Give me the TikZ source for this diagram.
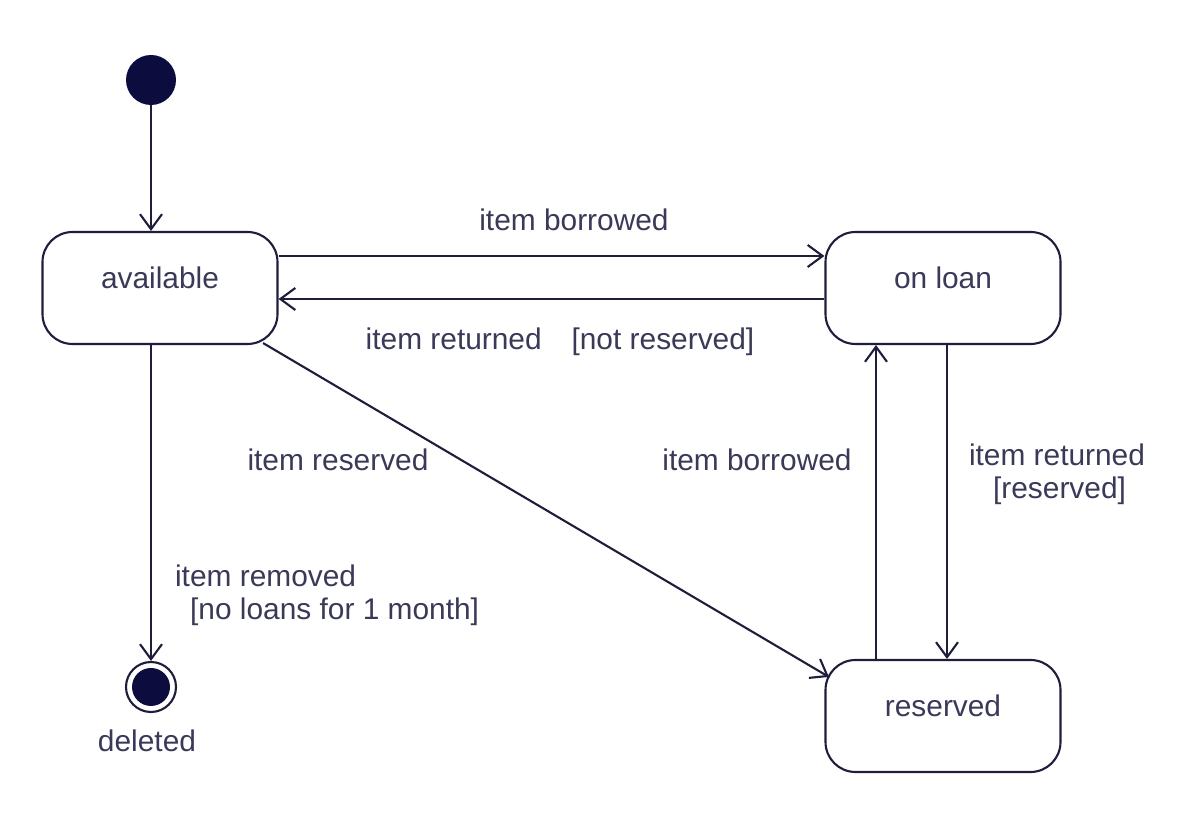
\documentclass[tikz,border=0pt]{standalone}
\usepackage{fontspec}
\setmainfont{Liberation Sans}
\usepackage{tikz}
\usetikzlibrary{arrows.meta,calc,positioning}
\definecolor{umlline}{RGB}{30,30,60}
\definecolor{umldot}{RGB}{12,12,62}
\definecolor{umltext}{RGB}{58,58,88}
\tikzset{state/.style={draw=umlline,line width=1.2pt,rounded corners=0.6cm,minimum width=4.7cm,minimum height=2.24cm,
    text height=0.45cm,text depth=0.42cm,text=umltext,font=\fontsize{17}{19}\selectfont},
  lbl/.style={text=umltext,font=\fontsize{17}{19}\selectfont,inner sep=1pt},
  arr/.style={-{Straight Barb[length=3mm,width=4.4mm]},line width=1.2pt,draw=umlline}}

\begin{document}
\begin{tikzpicture}
\useasboundingbox (0,0) rectangle (23.84,16.74);
\node[circle,fill=umldot,minimum size=1cm,inner sep=0pt] (init) at (3.02,15.14){};
\node[state] (avail) at (3.2,10.98){available};
\node[state] (loan) at (18.86,10.98){on loan};
\node[state] (res) at (18.86,2.42){reserved};
\node[circle,draw=umlline,line width=1.2pt,minimum size=1cm,inner sep=0pt] (fin) at (3.02,3.0){};
\fill[umldot] (fin) circle (0.38cm);
\node[lbl] (del) at (2.94,1.92){deleted};
\draw[arr] (init) -- (init |- avail.north);
\draw[arr] ([yshift=0.64cm]avail.east) -- ([yshift=0.64cm]loan.west);
\draw[arr] ([yshift=-0.22cm]loan.west) -- ([yshift=-0.22cm]avail.east);
\draw[arr] ([xshift=-0.31cm,yshift=0.04cm]avail.south east) -- ([xshift=0.09cm,yshift=-0.36cm]res.north west);
\draw[arr] (avail.south -| fin) -- (fin.north);
\draw[arr] ([xshift=-1.34cm]res.north) -- ([xshift=-1.34cm]loan.south);
\draw[arr] ([xshift=0.08cm]loan.south) -- ([xshift=0.08cm]res.north);
% transition labels
\node[lbl] (t1) at (11.48,12.34){item borrowed};
\node[lbl] (t2) at (11.2,9.9){item returned\quad[not reserved]};
\node[lbl] (t3) at (6.76,7.54){item reserved};
\node[lbl] (t4) at (15.14,7.54){item borrowed};
\node[lbl,align=center] (t5) at (21.14,7.26){item returned\\\hspace*{0.1cm}[reserved]};
\node[lbl,align=left,anchor=west] (t6) at (3.46,4.84){item removed\\\hspace*{0.3cm}[no loans for 1 month]};
\end{tikzpicture}
\end{document}
